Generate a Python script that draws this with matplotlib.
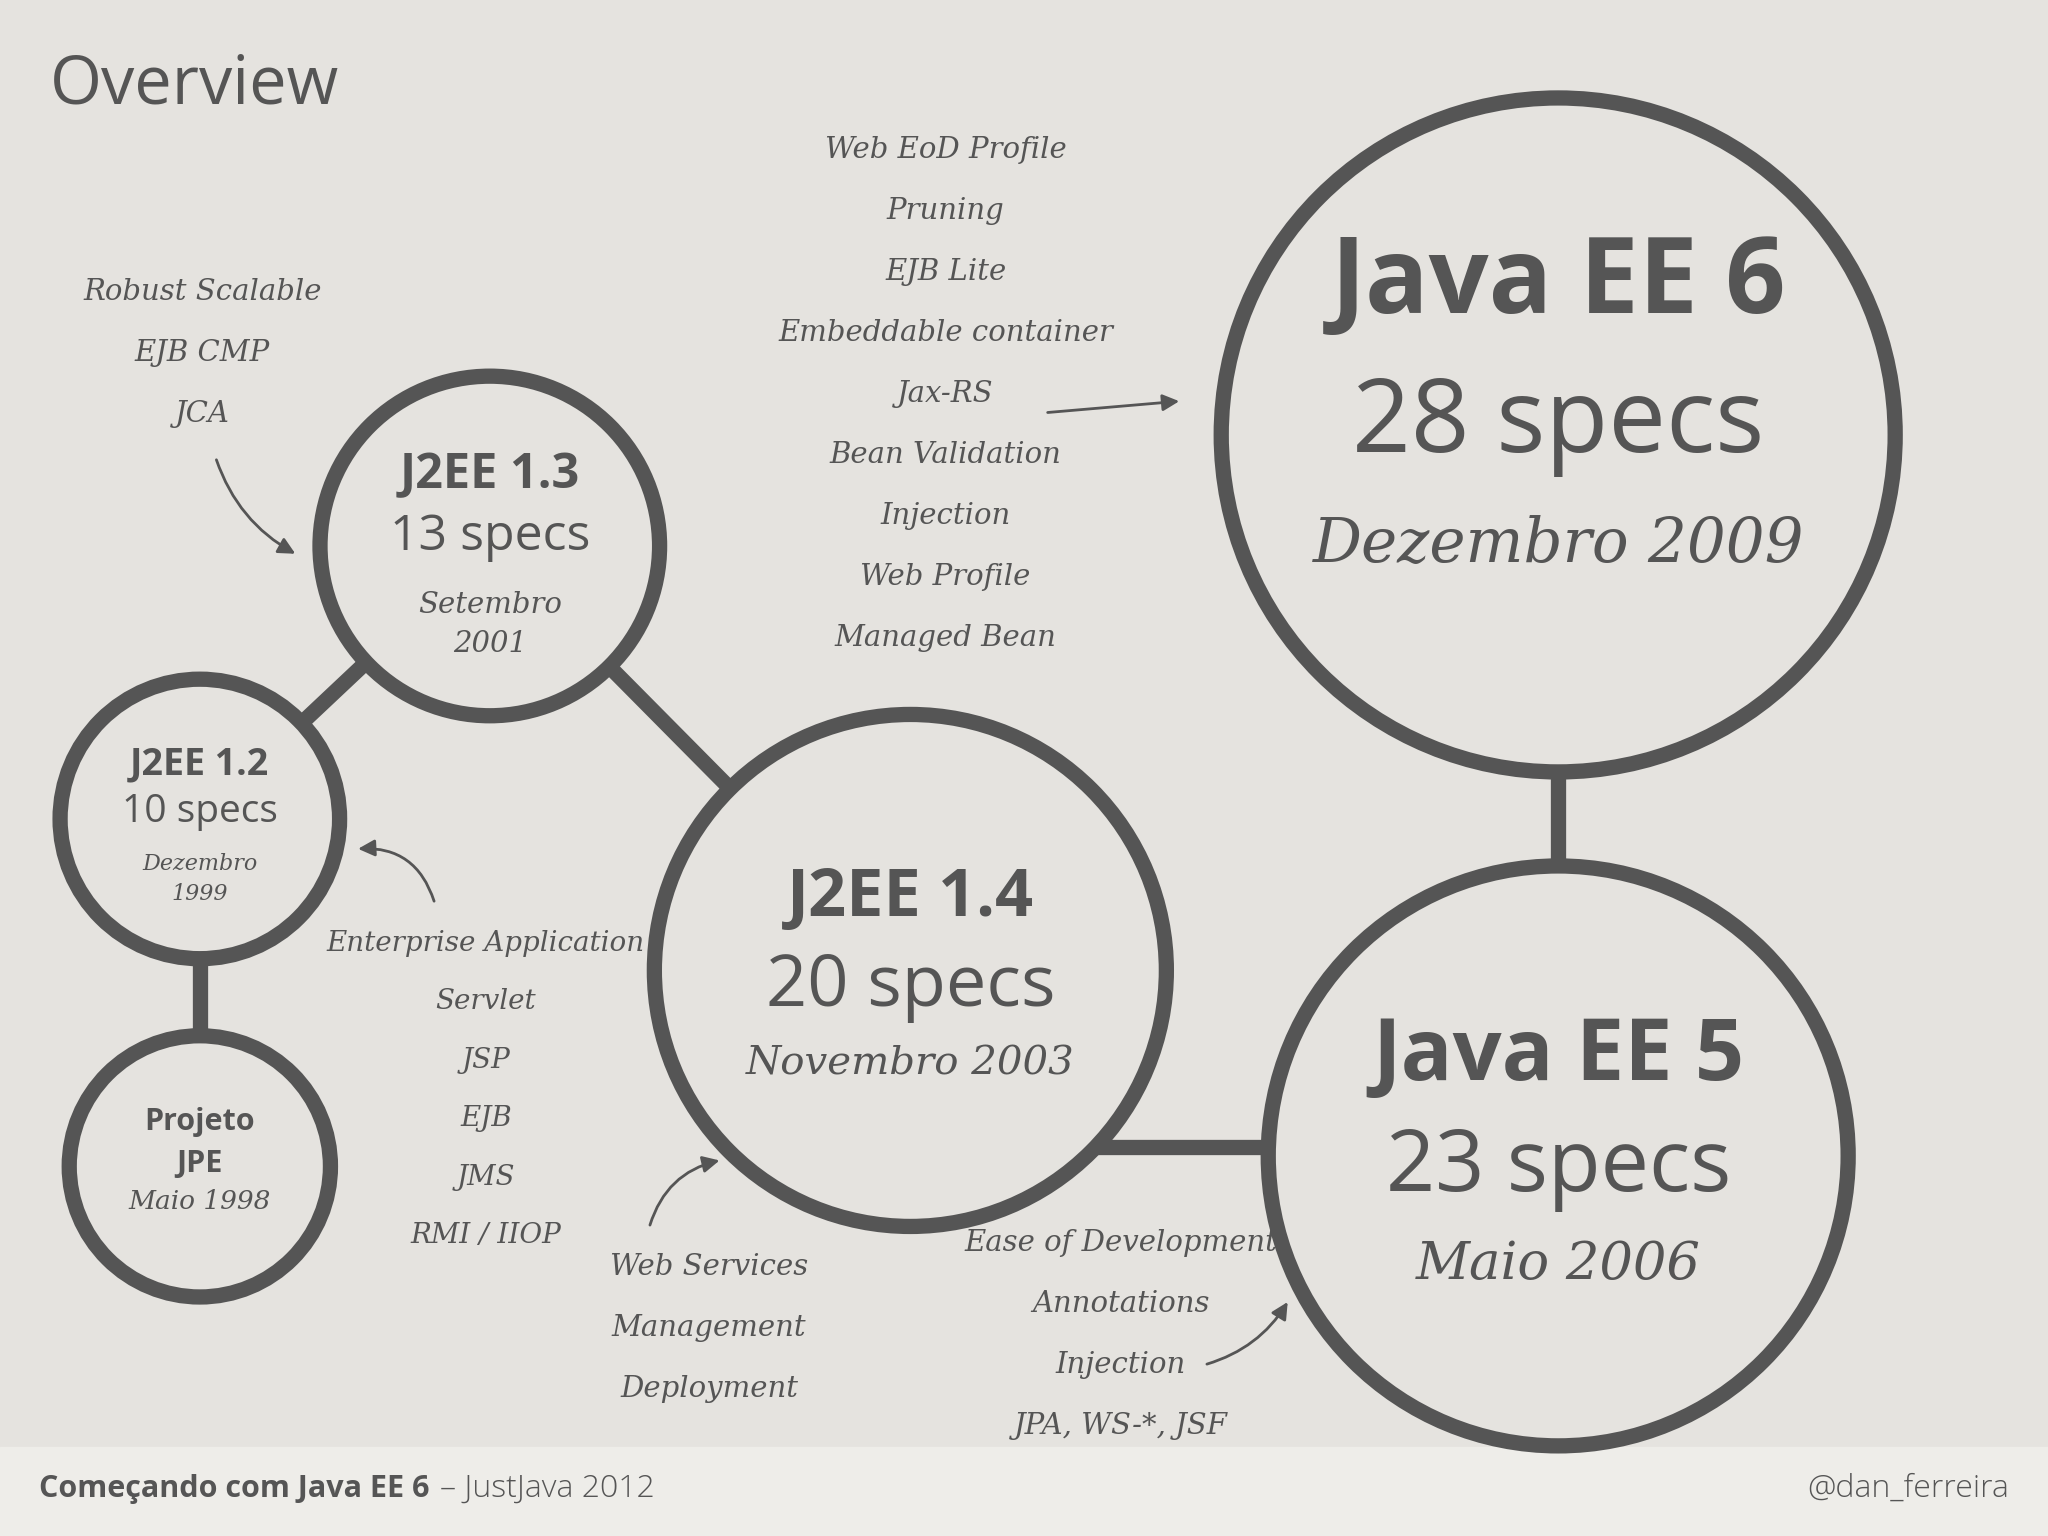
import matplotlib
matplotlib.use("Agg")
import matplotlib.pyplot as plt
from matplotlib.patches import Circle, Rectangle

W, H = 1568, 1176
names = ["Projeto JPE", "J2EE 1.2", "J2EE 1.3", "J2EE 1.4", "Java EE 5", "Java EE 6"]
titles = ["Projeto\nJPE", "J2EE 1.2", "J2EE 1.3", "J2EE 1.4", "Java EE 5", "Java EE 6"]
specs = ["", "10 specs", "13 specs", "20 specs", "23 specs", "28 specs"]
dates = ["Maio 1998", "Dezembro\n1999", "Setembro\n2001", "Novembro 2003", "Maio 2006", "Dezembro 2009"]
cx = [153, 153, 375, 697, 1193, 1193]
cy = [893, 627, 418, 743, 885, 333]
rad = [100, 107, 130, 196, 222, 258]
links = [(0, 1), (1, 2), (2, 3), (4, 5)]

notes = [
    ("Robust Scalable\nEJB CMP\nJCA", 155, 270),
    ("Web EoD Profile\nPruning\nEJB Lite\nEmbeddable container\nJax-RS\nBean Validation\nInjection\nWeb Profile\nManaged Bean", 724, 302),
    ("Enterprise Application\nServlet\nJSP\nEJB\nJMS\nRMI / IIOP", 372, 834),
    ("Web Services\nManagement\nDeployment", 543, 1017),
    ("Ease of Development\nAnnotations\nInjection\nJPA, WS-*, JSF", 858, 1022),
]
arrows = [((165, 350), (228, 425), 0.2), ((800, 316), (905, 307), 0.0),
          ((333, 692), (272, 650), 0.4), ((497, 940), (553, 888), -0.3),
          ((922, 1045), (987, 995), 0.2)]

fig = plt.figure(figsize=(20.48, 15.36), dpi=100)
ax = fig.add_axes([0, 0, 1, 1])
ax.set_xlim(0, W); ax.set_ylim(H, 0); ax.axis("off")
fig.patch.set_facecolor("#e5e3df")
ax.add_patch(Rectangle((0, 1108), W, 68, color="#eeede9", zorder=0))
col = "#555555"
lw = 11

for a, b in links:
    ax.plot([cx[a], cx[b]], [cy[a], cy[b]], color=col, lw=lw, zorder=1, solid_capstyle="butt")
ax.plot([840, 972], [878, 878], color=col, lw=lw, zorder=1)

for i in range(6):
    ax.add_patch(Circle((cx[i], cy[i]), rad[i], facecolor="#e5e3df", edgecolor=col, lw=lw, zorder=2))

tc = "#555555"
def t(x, y, s, size, w="normal", style="normal", fam="Open Sans"):
    ax.text(x, y, s, fontsize=size, fontweight=w, style=style, family=fam, color=tc,
            ha="center", va="center", zorder=3, linespacing=1.5)

t(153, 875, titles[0], 22, "bold")
t(153, 920, dates[0], 19, style="italic", fam="DejaVu Serif")
t(153, 585, titles[1], 27, "bold"); t(153, 622, specs[1], 28)
t(153, 673, dates[1], 16, style="italic", fam="DejaVu Serif")
t(375, 364, titles[2], 35, "bold"); t(375, 411, specs[2], 36)
t(375, 478, dates[2], 21, style="italic", fam="DejaVu Serif")
t(697, 688, titles[3], 48, "bold"); t(697, 756, specs[3], 52)
t(697, 815, dates[3], 29, style="italic", fam="DejaVu Serif")
t(1193, 810, titles[4], 62, "bold"); t(1193, 895, specs[4], 62)
t(1193, 968, dates[4], 38, style="italic", fam="DejaVu Serif")
t(1193, 218, titles[5], 76, "bold"); t(1193, 326, specs[5], 74)
t(1193, 417, dates[5], 44, style="italic", fam="DejaVu Serif")

for i, (s, x, y) in enumerate(notes):
    ax.text(x, y, s, fontsize=20 if i == 2 else 21, style="italic", family="DejaVu Serif", color=tc,
            ha="center", va="center", linespacing=2.5, zorder=3)

for (x0, y0), (x1, y1), r in arrows:
    ax.annotate("", xy=(x1, y1), xytext=(x0, y0),
                arrowprops=dict(arrowstyle="-|>", color=tc, lw=2, mutation_scale=25,
                                connectionstyle=f"arc3,rad={r}"), zorder=3)

ax.text(38, 66, "Overview", fontsize=48, family="Open Sans", color=tc, ha="left", va="center")
b = ax.text(30, 1140, "Começando com Java EE 6", fontsize=22, family="Open Sans", fontweight="bold",
            color=tc, ha="left", va="center")
fig.canvas.draw()
bb = b.get_window_extent().transformed(ax.transData.inverted())
ax.text(bb.x1 + 8, 1140, "– JustJava 2012", fontsize=23, family="Open Sans", fontweight="light",
        color=tc, ha="left", va="center")
ax.text(1538, 1140, "@dan_ferreira", fontsize=23, family="Open Sans", fontweight="light",
        color=tc, ha="right", va="center")

fig.savefig("out.png", dpi=100, facecolor=fig.get_facecolor())
